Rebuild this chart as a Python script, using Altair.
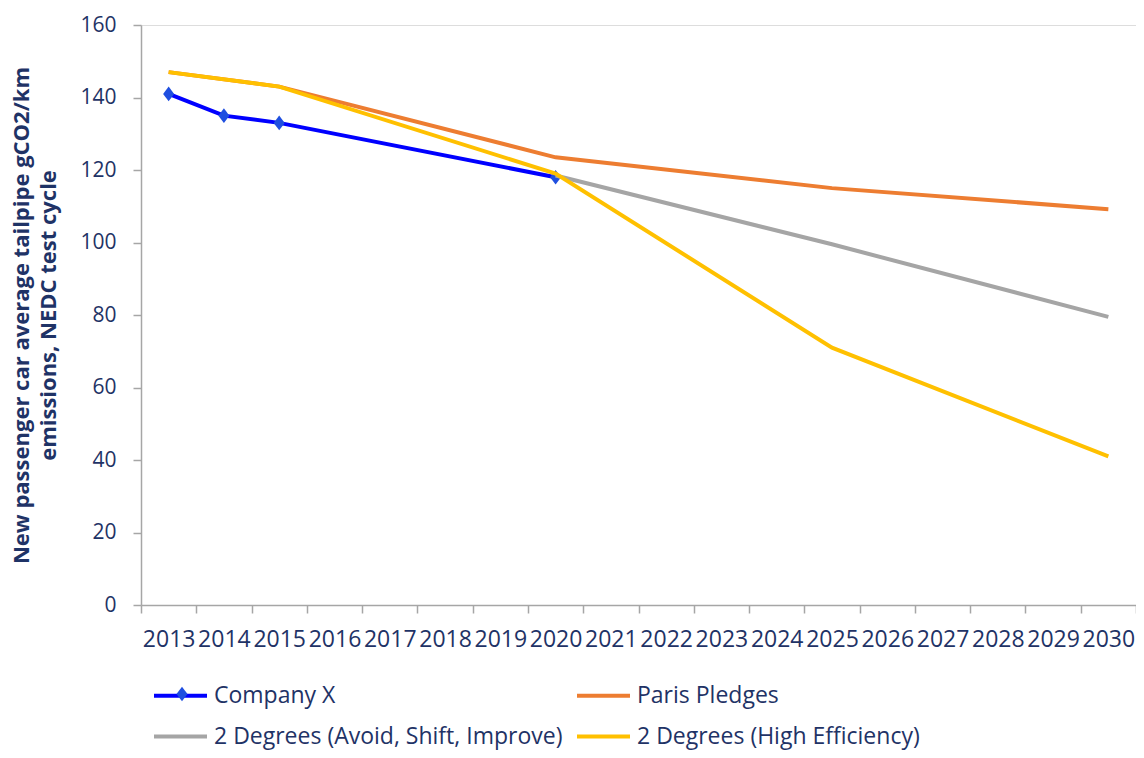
import altair as alt
import pandas as pd

years = list(range(2013, 2031))
series_names = ["Company X", "Paris Pledges",
                "2 Degrees (Avoid, Shift, Improve)", "2 Degrees (High Efficiency)"]
series_colors = ["#0000FF", "#ED7D31", "#A5A5A5", "#FFC000"]

company_years = [2013, 2014, 2015, 2020]
company_vals = [141, 135, 133, 118]
paris_years = [2013, 2015, 2020, 2025, 2030]
paris_vals = [147, 143, 123.5, 115, 109.2]
avoid_years = [2020, 2025, 2030]
avoid_vals = [118.5, 99.5, 79.5]
higheff_years = [2013, 2015, 2020, 2025, 2030]
higheff_vals = [147, 143, 119, 71, 41]
y_ticks = [0, 20, 40, 60, 80, 100, 120, 140, 160]

y_title = ["New passenger car average tailpipe gCO2/km", "emissions, NEDC test cycle"]

rows = []
for name, ys, vs in zip(series_names,
                        [company_years, paris_years, avoid_years, higheff_years],
                        [company_vals, paris_vals, avoid_vals, higheff_vals]):
    for y, v in zip(ys, vs):
        rows.append({"year": y, "value": v, "series": name})
df = pd.DataFrame(rows)

NAVY = "#1F3366"
AXIS_GRAY = "#A6A6A6"
DIAMOND = "#1F4FE0"
DIAMOND_PATH = "M0,-1.2L0.9,0L0,1.2L-0.9,0Z"
FONT = "Open Sans"
LEG_X, LEG_Y = 11, 642
SYM = 53

x_enc = alt.X(
    "year:O",
    bandPosition=0.5,
    scale=alt.Scale(type="band", domain=years, paddingInner=0, paddingOuter=0),
    axis=alt.Axis(title=None, labelAngle=0, tickBand="extent", tickSize=8,
                  labelPadding=15, labelFontSize=23, labelColor=NAVY,
                  labelFont=FONT, domainColor=AXIS_GRAY, tickColor=AXIS_GRAY,
                  domainWidth=1.5, tickWidth=1.5, grid=False),
)
y_enc = alt.Y(
    "value:Q",
    scale=alt.Scale(domain=[0, 160], nice=False),
    axis=alt.Axis(values=y_ticks, title=y_title, titleFontSize=22,
                  titleFontWeight="bold", titleColor=NAVY, titleFont=FONT,
                  titleLineHeight=27, titlePadding=19, tickSize=8,
                  labelPadding=17, labelFontSize=21, labelColor=NAVY,
                  labelFont=FONT, domainColor=AXIS_GRAY, tickColor=AXIS_GRAY,
                  domainWidth=1.5, tickWidth=1.5, grid=False),
)
color_enc = alt.Color(
    "series:N",
    scale=alt.Scale(domain=series_names, range=series_colors),
    legend=alt.Legend(
        title=None, orient="none", legendX=LEG_X, legendY=LEG_Y, columns=2,
        direction="horizontal",
        symbolType="stroke", symbolSize=SYM * SYM, symbolStrokeWidth=4,
        labelFontSize=23, labelColor=NAVY, labelFont=FONT, labelLimit=600,
        labelOffset=5, columnPadding=6, rowPadding=0, padding=0,
    ),
)
shape_enc = alt.Shape(
    "series:N",
    scale=alt.Scale(domain=["Company X"], range=[DIAMOND_PATH]),
    legend=alt.Legend(
        title=None, orient="none", legendX=LEG_X + SYM / 2 - 3, legendY=LEG_Y + SYM / 2 - 6,
        symbolSize=150, symbolFillColor=DIAMOND, symbolStrokeColor=DIAMOND,
        symbolStrokeWidth=0, labelExpr="''", padding=0, zindex=2,
    ),
)

base = alt.Chart(df)

def line_layer(name):
    return base.transform_filter(alt.datum.series == name).mark_line(
        strokeWidth=4
    ).encode(x=x_enc, y=y_enc, color=color_enc)

points = base.transform_filter(alt.datum.series == "Company X").mark_point(
    filled=True, size=150, color=DIAMOND, opacity=1
).encode(x=x_enc, y=y_enc, shape=shape_enc)

chart = alt.layer(
    line_layer(series_names[0]),
    points,
    line_layer(series_names[1]),
    line_layer(series_names[2]),
    line_layer(series_names[3]),
).properties(
    width=995, height=580,
    autosize=alt.AutoSizeParams(type="none"),
    padding={"left": 133, "top": 17, "right": 0, "bottom": 145},
).configure_view(stroke=None).configure(font=FONT)

chart.save("out.html", embed_options={"renderer": "svg", "actions": False})
